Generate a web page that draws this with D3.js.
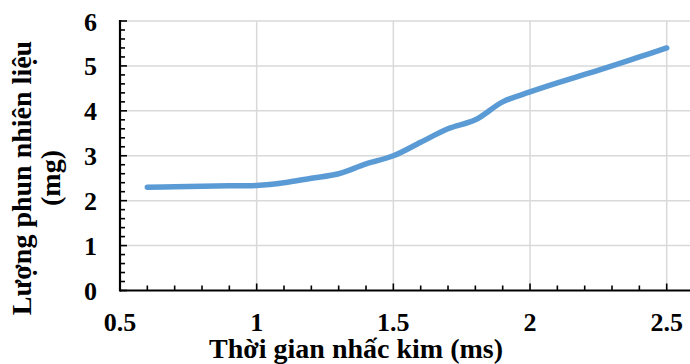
<!DOCTYPE html>
<html>
<head>
<meta charset="utf-8">
<script src="https://cdn.jsdelivr.net/npm/d3@7/dist/d3.min.js"></script>
<style>
  html, body { margin: 0; padding: 0; background: #fff; }
  svg { display: block; }
  text { font-family: "Liberation Serif", "Times New Roman", serif; font-weight: bold; fill: #000; }
</style>
</head>
<body>
<svg id="chart" width="690" height="364"></svg>
<script>
// Injection time (ms) vs. injected fuel quantity (mg)
const injectionTime = [0.6, 0.7, 0.8, 0.9, 1.0, 1.1, 1.2, 1.3, 1.4, 1.5, 1.6, 1.7, 1.8, 1.9, 2.0, 2.1, 2.2, 2.3, 2.4, 2.5];
const fuelMass      = [2.30, 2.31, 2.32, 2.33, 2.34, 2.40, 2.50, 2.60, 2.82, 3.00, 3.30, 3.60, 3.80, 4.20, 4.42, 4.62, 4.81, 5.00, 5.20, 5.40];

const xMajorTicks = [0.5, 1, 1.5, 2, 2.5];
const xTickLabels = ["0.5", "1", "1.5", "2", "2.5"];
const yMajorTicks = [0, 1, 2, 3, 4, 5, 6];
const yTickLabels = ["0", "1", "2", "3", "4", "5", "6"];

const xTitle = "Thời gian nhấc kim (ms)";
const yTitleLines = ["Lượng phun nhiên liệu", "(mg)"];

const svg = d3.select("#chart");

const plot = { left: 120, right: 690, top: 21, bottom: 290.5 };

const x = d3.scaleLinear().domain([0.5, 2.5]).range([plot.left, 666.7]);
const y = d3.scaleLinear().domain([0, 6]).range([plot.bottom, plot.top]);

// Gridlines
const grid = svg.append("g").attr("stroke", "#d9d9d9").attr("stroke-width", 1.5);
grid.selectAll("line.h")
  .data(yMajorTicks.filter(d => d > 0))
  .join("line")
  .attr("x1", plot.left).attr("x2", plot.right)
  .attr("y1", d => y(d)).attr("y2", d => y(d));
grid.selectAll("line.v")
  .data(xMajorTicks.filter(d => d > 0.5))
  .join("line")
  .attr("x1", d => x(d)).attr("x2", d => x(d))
  .attr("y1", plot.top).attr("y2", plot.bottom);

// Axis lines with inward major and minor ticks
const xMinor = d3.range(5, 26).map(d => d / 10);
const yMinor = d3.range(0, 31).map(d => d / 5);

const axes = svg.append("g").attr("stroke", "#000").attr("stroke-width", 1.6);
axes.selectAll("line.xt")
  .data(xMinor)
  .join("line")
  .attr("x1", d => x(d)).attr("x2", d => x(d))
  .attr("y1", plot.bottom)
  .attr("y2", d => plot.bottom - (Math.abs(d * 2 - Math.round(d * 2)) < 1e-6 ? 7 : 5));
axes.selectAll("line.yt")
  .data(yMinor)
  .join("line")
  .attr("y1", d => y(d)).attr("y2", d => y(d))
  .attr("x1", plot.left)
  .attr("x2", d => plot.left + (Math.abs(d - Math.round(d)) < 1e-6 ? 7 : 5));
axes.append("line")
  .attr("x1", plot.left).attr("x2", plot.right)
  .attr("y1", plot.bottom).attr("y2", plot.bottom)
  .attr("stroke-width", 2.2);
axes.append("line")
  .attr("x1", plot.left).attr("x2", plot.left)
  .attr("y1", plot.top - 1).attr("y2", plot.bottom + 1)
  .attr("stroke-width", 2.2);

// Tick labels
svg.append("g").selectAll("text")
  .data(xMajorTicks)
  .join("text")
  .attr("x", d => x(d))
  .attr("y", 331)
  .attr("text-anchor", "middle")
  .style("font-size", "26px")
  .text((d, i) => xTickLabels[i]);

svg.append("g").selectAll("text")
  .data(yMajorTicks)
  .join("text")
  .attr("x", 97)
  .attr("y", d => y(d) + 9.5)
  .attr("text-anchor", "end")
  .style("font-size", "26px")
  .text((d, i) => yTickLabels[i]);

// Series line
const line = d3.line()
  .x(d => x(d[0]))
  .y(d => y(d[1]))
  .curve(d3.curveCatmullRom.alpha(0.5));

svg.append("path")
  .datum(injectionTime.map((t, i) => [t, fuelMass[i]]))
  .attr("d", line)
  .attr("fill", "none")
  .attr("stroke", "#5b9bd5")
  .attr("stroke-width", 5.5)
  .attr("stroke-linecap", "round")
  .attr("stroke-linejoin", "round");

// Axis titles
svg.append("text")
  .attr("x", 356)
  .attr("y", 358)
  .attr("text-anchor", "middle")
  .style("font-size", "28px")
  .text(xTitle);

const yT = svg.append("text")
  .attr("transform", "translate(0,178) rotate(-90)")
  .attr("text-anchor", "middle")
  .style("font-size", "28px");
yT.selectAll("tspan")
  .data(yTitleLines)
  .join("tspan")
  .attr("x", 0)
  .attr("y", (d, i) => 31 + i * 29)
  .text(d => d);
</script>
</body>
</html>
